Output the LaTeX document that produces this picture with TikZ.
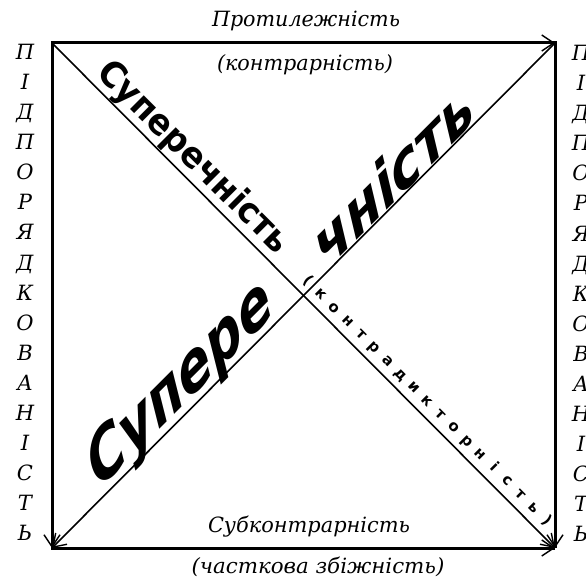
\documentclass[tikz,border=0pt]{standalone}
\usepackage{fontspec}
\usepackage{graphicx}
\usetikzlibrary{arrows.meta}
\newfontfamily\labfont{DejaVu Serif}
\newfontfamily\wafont{DejaVu Sans}
\newsavebox\fitbox
\newcommand\fitw[2]{\sbox\fitbox{#2}\scalebox{\fpeval{#1/(\the\wd\fitbox)}}[1]{\usebox\fitbox}}
\begin{document}
\begin{tikzpicture}[x=1pt,y=-1pt,
  frame/.style={line width=3pt, line cap=rect},
  diag/.style={line width=1.6pt},
  tip/.style={-{Straight Barb[length=12pt,width=16pt,line width=1.4pt]}},
  lab/.style={font=\labfont\itshape\fontsize{21}{21}\selectfont, inner sep=0pt, anchor=base},
  side/.style={font=\labfont\itshape\fontsize{21}{21}\selectfont, inner sep=0pt, anchor=base},
  wa/.style={inner sep=0pt},
  wl/.style={font=\wafont\bfseries\fontsize{15}{15}\selectfont, inner sep=0pt, anchor=base, rotate=-45}]
\useasboundingbox (0,0) rectangle (586,580);
\fill[white] (0,0) rectangle (586,580);
\coordinate (TL) at (52,43);
\coordinate (TR) at (555,43);
\coordinate (BL) at (52,548);
\coordinate (BR) at (555,548);
% frame and diagonals
\draw[frame, tip] (TL) -- (TR);
\draw[frame, tip] (TL) -- (BL);
\draw[frame, tip] (TR) -- (BR);
\draw[frame, tip] (BL) -- (BR);
\draw[diag, tip] (TL) -- (BR);
\draw[diag, tip] (TR) -- (BL);
% labels
\node[lab] (top) at (306,27) {\fitw{188}{Протилежність}};
\node[lab] (topb) at (305,71) {\fitw{176}{(контрарність)}};
\node[lab] (bot) at (309,532) {\fitw{202}{Субконтрарність}};
\node[lab] (botb) at (318,573) {\fitw{253}{(часткова збіжність)}};
% side letters
\foreach \ch [count=\i from 0] in {П,І,Д,П,О,Р,Я,Д,К,О,В,А,Н,І,С,Т,Ь} {
  \node[side] (L\i) at (25,{60+30*\i}) {\ch};
  \node[side] (R\i) at (581,{61+30*\i}) {\ch};
}
% diagonal word art
\node[wa, rotate=-45] (sup1) at (193,158) {\resizebox{256pt}{27pt}{\wafont\bfseries Суперечність}};
\node[wa, rotate=45, xslant=0.4] (sup2) at (181,386) {\resizebox{250pt}{44pt}{\wafont\bfseries\itshape Супере}};
\node[wa, rotate=45, xslant=0.4] (sup3) at (393,175) {\resizebox{215pt}{42pt}{\wafont\bfseries\itshape чність}};
\foreach \ch [count=\i from 0] in {{(},к,о,н,т,р,а,д,и,к,т,о,р,н,і,с,т,ь,{)}} {
  \node[wl] (k\i) at ({305+13.28*\i},{284+13.33*\i}) {\ch};
}
\end{tikzpicture}
\end{document}
